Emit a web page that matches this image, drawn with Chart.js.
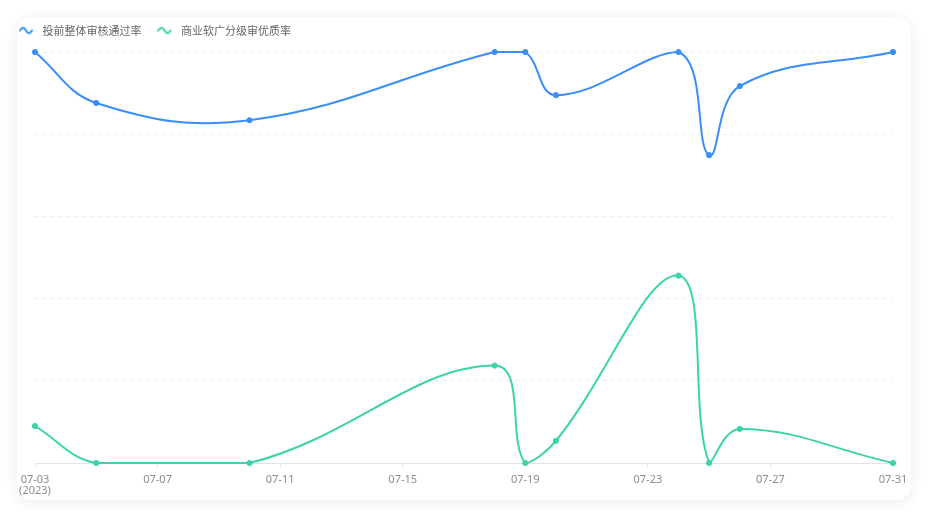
<!DOCTYPE html>
<html>
<head>
<meta charset="utf-8">
<script src="https://cdn.jsdelivr.net/npm/chart.js@4.4.0/dist/chart.umd.min.js"></script>
<style>
    html, body { margin: 0; padding: 0; background: #fff; }
    body { width: 928px; height: 518px; position: relative; overflow: hidden; }
    #card {
        position: absolute; left: 17px; top: 17px; width: 894px; height: 483px;
        background: #fff; border-radius: 14px;
        box-shadow: 0 2px 14px rgba(0, 0, 0, 0.08);
    }
    #wrap { position: absolute; left: 0; top: 0; width: 928px; height: 518px; }
</style>
</head>
<body>
<div id="card"></div>
<div id="wrap"><canvas id="chart" width="928" height="518"></canvas></div>
<script>
// data
const dates = ["07-03", "07-05", "07-10", "07-18", "07-19", "07-20", "07-24", "07-25", "07-26", "07-31"];
const passRate = [100, 87.6, 83.4, 100, 100, 89.5, 100, 74.9, 91.7, 100];
const qualityRate = [9.0, 0, 0, 23.7, 0, 5.4, 45.6, 0, 8.3, 0];
const seriesNames = ["投前整体审核通过率", "商业软广分级审优质率"];
const tickLabels = ["07-03", "07-07", "07-11", "07-15", "07-19", "07-23", "07-27", "07-31"];
const yearLabel = "(2023)";

const blue = "#3a8ff7";
const green = "#3bd4a9";

// day of month -> x value on a linear axis
const toPoints = (values) => dates.map((d, i) => ({ x: parseInt(d.slice(3), 10), y: values[i] }));

// little wave icon for the legend
function waveIcon(color) {
    const c = document.createElement("canvas");
    c.width = 18;
    c.height = 10;
    const g = c.getContext("2d");
    g.strokeStyle = color;
    g.lineWidth = 2;
    g.lineCap = "round";
    g.beginPath();
    for (let t = 0; t <= 1.0001; t += 0.05) {
        const x = 1 + 12 * t;
        const y = 5 - 2.6 * Math.sin(2 * Math.PI * t);
        if (t === 0) g.moveTo(x, y); else g.lineTo(x, y);
    }
    g.stroke();
    return c;
}

// push the plot area down a bit under the legend
const legendGap = {
    id: "legendGap",
    beforeInit(chart) {
        const fit = chart.legend.fit;
        chart.legend.fit = function () {
            fit.call(this);
            this.height += 6;
        };
    }
};

const lineStyle = (color) => ({
    borderColor: color,
    backgroundColor: color,
    pointBackgroundColor: color,
    pointBorderColor: color,
    borderWidth: 2,
    pointRadius: 2.6,
    pointBorderWidth: 1,
    tension: 0.4,
    clip: 8,
    pointStyle: "circle"
});

const ctx = document.getElementById("chart").getContext("2d");
new Chart(ctx, {
    type: "line",
    data: {
        datasets: [
            { label: seriesNames[0], data: toPoints(passRate), ...lineStyle(blue) },
            { label: seriesNames[1], data: toPoints(qualityRate), ...lineStyle(green) }
        ]
    },
    options: {
        responsive: false,
        animation: false,
        events: [],
        layout: { padding: { left: 3, right: 35, top: 9, bottom: 0 } },
        plugins: {
            tooltip: { enabled: false },
            legend: {
                position: "top",
                align: "start",
                labels: {
                    usePointStyle: true,
                    pointStyleWidth: 18,
                    padding: 16,
                    color: "#666",
                    font: { family: "'Noto Sans CJK SC', sans-serif", size: 11 },
                    generateLabels(chart) {
                        return chart.data.datasets.map((ds, i) => ({
                            text: ds.label,
                            pointStyle: waveIcon(ds.borderColor),
                            fillStyle: ds.borderColor,
                            strokeStyle: ds.borderColor,
                            fontColor: "#666",
                            lineWidth: 0,
                            hidden: false,
                            datasetIndex: i
                        }));
                    }
                }
            }
        },
        scales: {
            x: {
                type: "linear",
                min: 3,
                max: 31,
                afterFit: (scale) => { scale.height = 55; },
                border: { display: true, color: "#e3e3e3", width: 1 },
                grid: { drawOnChartArea: false, drawTicks: true, tickLength: 4, tickColor: "#e3e3e3" },
                ticks: {
                    stepSize: 4,
                    autoSkip: false,
                    maxRotation: 0,
                    padding: 7,
                    color: "#8c8c8c",
                    font: { family: "'Noto Sans', sans-serif", size: 11, lineHeight: 1 },
                    callback: (value, index) => index === 0 ? [tickLabels[index], yearLabel] : tickLabels[index]
                }
            },
            y: {
                min: 0,
                max: 100,
                afterFit: (scale) => { scale.width = 32; },
                border: { display: false, dash: [4, 4] },
                grid: { color: "#ececec", drawTicks: false },
                ticks: { display: false, stepSize: 20 }
            }
        }
    },
    plugins: [legendGap]
});
</script>
</body>
</html>
